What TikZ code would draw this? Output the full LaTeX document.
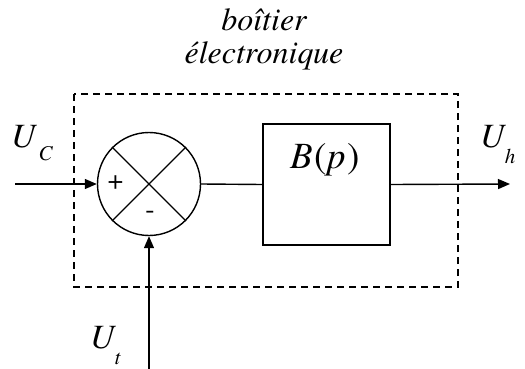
\documentclass[tikz,border=0pt]{standalone}
\usepackage{fontspec}
\setmainfont{texgyretermes}[Extension=.otf, UprightFont=*-regular, ItalicFont=*-italic, BoldFont=*-bold, BoldItalicFont=*-bolditalic]
\usetikzlibrary{arrows.meta}
\newcommand{\bigU}[3]{{\fontsize{34}{36}\selectfont\itshape U\kern#2\raisebox{#3}{\fontsize{21}{22}\selectfont #1}}}
\begin{document}
\begin{tikzpicture}[x=1pt,y=-1pt,
  ln/.style={line width=1.4pt},
  arr/.style={ln,-{Triangle[length=12pt,width=10pt]}},
  lbl/.style={inner sep=0pt, anchor=base west}]
\useasboundingbox (0,0) rectangle (525,369);
\draw[line width=1.3pt, dash pattern=on 7pt off 5pt] (74,94) rectangle (458,287);
\node[circle, draw, ln, minimum size=103pt, inner sep=0pt] (s) at (149,184) {};
\draw[ln] (s.45) -- (s.225) (s.135) -- (s.-45);
\node[draw, ln, minimum width=127pt, minimum height=121pt, inner sep=0pt] (b) at (326.5,184.5) {};
\node[inner sep=0pt, anchor=base, font=\fontsize{37}{40}\selectfont] (bp) at (325,168) {\textit{B}\kern1pt(\kern1pt\textit{p}\kern1pt)};
\coordinate (in) at (15,184);
\coordinate (out) at (510,184);
\coordinate (tb) at (149,369);
\draw[arr] (in) -- (s.west);
\draw[ln] (s.east) -- (b.west);
\draw[arr] (b.east) -- (out);
\draw[arr] (tb) -- (s.south);
\node[inner sep=0pt, font=\fontsize{28}{30}\selectfont] (plus) at (115.5,183) {+};
\node[inner sep=0pt, font=\fontsize{28}{30}\selectfont] (minus) at (150,215) {-};
\node[lbl] (uc) at (11,147) {\bigU{C}{3pt}{-13pt}};
\node[lbl] (uh) at (480,147) {\bigU{h}{0pt}{-16pt}};
\node[lbl] (ut) at (90,348) {\bigU{t}{0pt}{-16pt}};
\node[font=\fontsize{32}{33}\selectfont\itshape, align=center, inner sep=0pt] (title) at (264,39.5) {boîtier\\électronique};
\end{tikzpicture}
\end{document}
